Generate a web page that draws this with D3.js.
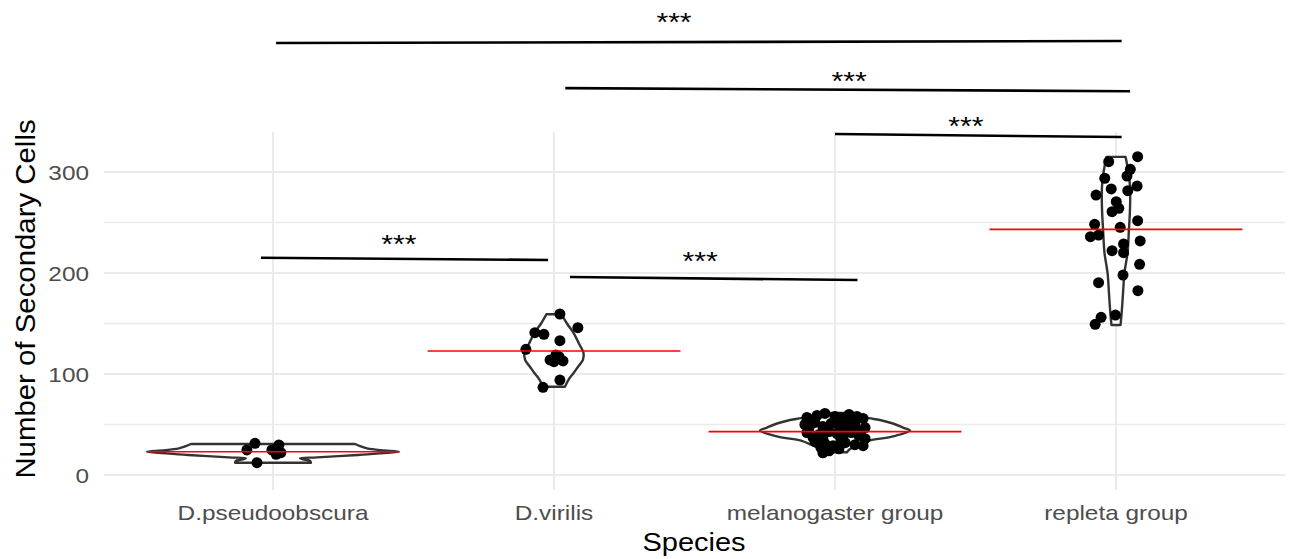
<!DOCTYPE html>
<html>
<head>
<meta charset="utf-8">
<script src="https://cdn.jsdelivr.net/npm/d3@7"></script>
<style>
  body { margin: 0; background: #fff; }
  text { font-family: "Liberation Sans", Arial, sans-serif; }
</style>
</head>
<body>
<div id="dataviz"></div>
<script>
// species on the x axis
const species = ["D.pseudoobscura", "D.virilis", "melanogaster group", "repleta group"];

// points: [jitter (in category units), number of cells]
const pseudoPoints = [[-0.064, 31.4], [-0.093, 24.8], [-0.057, 12.2], [0.021, 29.7], [-0.004, 24.8], [0.011, 20.5], [0.028, 22.1], [0.018, 23]];
const virilisPoints = [[0.021, 159.4], [0.085, 145.9], [-0.068, 140.9], [-0.036, 139.3], [0.021, 133], [-0.1, 124.4], [-0.014, 113.9],
  [0.007, 118.8], [0.032, 112.9], [0, 112.2], [0.018, 117.1], [0.021, 94], [-0.039, 86.8]];
const melanoPoints = [[-0.1, 57], [-0.064, 59], [-0.036, 61], [0, 58], [0.021, 57], [0.05, 60], [0.078, 58], [0.1, 56], [-0.085, 54], [0.064, 55],
  [-0.107, 50], [-0.071, 52], [-0.043, 48], [-0.014, 51], [0.014, 49], [0.043, 53], [0.071, 50], [0.107, 47], [-0.093, 46], [-0.028, 45], [0.036, 46], [0.093, 44],
  [-0.1, 42], [-0.057, 40], [-0.021, 43], [0.007, 41], [0.028, 38], [0.057, 42], [0.085, 39], [-0.078, 37], [-0.043, 36], [0.021, 35], [0.107, 36],
  [-0.071, 33], [-0.036, 31], [-0.007, 29], [0.036, 32], [0.071, 30], [0.1, 29], [-0.05, 27], [-0.021, 24], [0.014, 26], [-0.043, 22]];
const repletaPoints = [[0.077, 315.2], [-0.026, 310.2], [0.051, 302.6], [0.039, 296], [-0.04, 293.8], [0.075, 286.1], [0.042, 281.5], [-0.017, 283.2],
  [-0.071, 277.2], [0.001, 270.6], [0.01, 264], [-0.014, 260.7], [0.077, 251.8], [-0.076, 248.2], [0.015, 245.2], [-0.091, 236], [-0.062, 237.6],
  [0.086, 231.7], [0.027, 228.7], [-0.014, 222.1], [0.027, 220.1], [0.084, 208.6], [0.025, 198], [-0.062, 190.4], [0.078, 182.5], [-0.002, 158.4],
  [-0.053, 156.1], [-0.074, 149.2]];

// violin outlines: [number of cells, half width (category units)]
const pseudoViolin = [[12.2, 0.135], [14, 0.132], [15.5, 0.107], [16.5, 0.096], [17.5, 0.157], [19.8, 0.302], [21.5, 0.384], [23, 0.448],
  [24.5, 0.384], [26.4, 0.335], [28.5, 0.31], [30.7, 0.292]];
const virilisViolin = [[87.4, 0.039], [95, 0.053], [100.7, 0.069], [107, 0.085], [114, 0.103], [121, 0.105], [130, 0.089], [140, 0.071], [150, 0.046], [159.2, 0.027]];
const melanoViolin = [[22.5, 0.043], [25, 0.05], [30, 0.085], [34, 0.121], [38, 0.203], [44, 0.267], [47, 0.242], [51, 0.206], [54, 0.167], [57, 0.107], [60, 0.071], [61.5, 0.05]];
const repletaViolin = [[148.5, 0.016], [160, 0.02], [180, 0.025], [200, 0.03], [220, 0.041], [243, 0.046], [265, 0.05], [285, 0.05], [300, 0.044], [315, 0.034]];

// group means (red lines)
const means = [23, 122.8, 42.9, 243.2];

// significance bars: [x start, x end (category index), y start, y end, star x, star y, label]
const sigBars = [
  [0.011, 3.02, 427.7, 429.7, 1.427, 454.5, "***"],
  [1.04, 3.05, 383, 380, 2.05, 396, "***"],
  [2.0, 3.02, 337.6, 334.6, 2.466, 351.5, "***"],
  [-0.043, 0.979, 215.1, 212.9, 0.448, 234.4, "***"],
  [1.057, 2.08, 196, 193, 1.52, 217.8, "***"]
];

const yTicks = [0, 100, 200, 300];
const yMinor = [50, 150, 250];

const groups = [
  { name: species[0], points: pseudoPoints, violin: pseudoViolin, mean: means[0] },
  { name: species[1], points: virilisPoints, violin: virilisViolin, mean: means[1] },
  { name: species[2], points: melanoPoints, violin: melanoViolin, mean: means[2] },
  { name: species[3], points: repletaPoints, violin: repletaViolin, mean: means[3] }
];

const W = 1290, H = 559;
const panel = { left: 104, right: 1285, top: 132, bottom: 490 };
const stretch = 1.16;

const svg = d3.select("#dataviz")
  .append("svg")
  .attr("width", W)
  .attr("height", H);

svg.append("rect").attr("width", W).attr("height", H).attr("fill", "#fff");

const x = d3.scalePoint()
  .domain(species)
  .range([273, 1116]);
const step = x.step();
const xi = d3.scaleLinear().domain([0, 3]).range([273, 1116]);

const y = d3.scaleLinear()
  .domain([0, 300])
  .range([475, 172]);

// grid
const grid = svg.append("g");
grid.selectAll(".minor")
  .data(yMinor)
  .join("line")
  .attr("x1", panel.left).attr("x2", panel.right)
  .attr("y1", d => y(d)).attr("y2", d => y(d))
  .attr("stroke", "#ebebeb").attr("stroke-width", 1.4);
grid.selectAll(".major")
  .data(yTicks)
  .join("line")
  .attr("x1", panel.left).attr("x2", panel.right)
  .attr("y1", d => y(d)).attr("y2", d => y(d))
  .attr("stroke", "#ebebeb").attr("stroke-width", 2);
grid.selectAll(".vert")
  .data(species)
  .join("line")
  .attr("x1", d => x(d)).attr("x2", d => x(d))
  .attr("y1", panel.top).attr("y2", panel.bottom)
  .attr("stroke", "#ebebeb").attr("stroke-width", 2);

// text helper, glyphs a bit wider like the reference
function addText(g, tx, ty, str, size, fill, anchor, rotate) {
  return g.append("text")
    .attr("transform", `translate(${tx},${ty})` + (rotate ? ` rotate(${rotate})` : "") + ` scale(${stretch},1)`)
    .attr("text-anchor", anchor)
    .attr("font-size", size)
    .attr("fill", fill)
    .text(str);
}

const axes = svg.append("g");
yTicks.forEach(t => addText(axes, 89, y(t) + 7.5, t, 21, "#4d4d4d", "end"));
species.forEach(s => addText(axes, x(s), 520, s, 21, "#4d4d4d", "middle"));
addText(axes, 694, 551, "Species", 25, "#000", "middle");
axes.append("text")
  .attr("transform", `translate(35,299) rotate(-90) scale(1.05,1)`)
  .attr("text-anchor", "middle")
  .attr("font-size", 28)
  .attr("fill", "#000")
  .text("Number of Secondary Cells");

// violins
const marks = svg.append("g");
groups.forEach(g => {
  const cx = x(g.name);
  const right = g.violin.map(d => [d[0], cx + d[1] * step]);
  const left = g.violin.map(d => [d[0], cx - d[1] * step]).reverse();
  const line = d3.line()
    .curve(d3.curveCatmullRom)
    .x(d => d[1])
    .y(d => y(d[0]));
  // outline: right side bottom->top, then left side top->bottom, closed
  const pathR = line(right);
  const pathL = line(left);
  marks.append("path")
    .attr("d", pathR + "L" + pathL.slice(1) + "Z")
    .attr("fill", "#fff")
    .attr("stroke", "#333")
    .attr("stroke-width", 2.4)
    .attr("stroke-linejoin", "round");
});

// points
groups.forEach(g => {
  const cx = x(g.name);
  marks.selectAll(null)
    .data(g.points)
    .join("circle")
    .attr("cx", d => cx + d[0] * step)
    .attr("cy", d => y(d[1]))
    .attr("r", 5.5)
    .attr("fill", "#000");
});

// mean lines
marks.selectAll(".mean")
  .data(groups)
  .join("line")
  .attr("x1", d => x(d.name) - 0.45 * step)
  .attr("x2", d => x(d.name) + 0.45 * step)
  .attr("y1", d => y(d.mean))
  .attr("y2", d => y(d.mean))
  .attr("stroke", "#ff0000")
  .attr("stroke-width", 1.6);

// significance bars
const sig = svg.append("g");
sigBars.forEach(b => {
  sig.append("line")
    .attr("x1", xi(b[0])).attr("x2", xi(b[1]))
    .attr("y1", y(b[2])).attr("y2", y(b[3]))
    .attr("stroke", "#000")
    .attr("stroke-width", 2.6);
  addText(sig, xi(b[4]), y(b[5]) + 15, b[6], 26, "#000", "middle");
});
</script>
</body>
</html>
